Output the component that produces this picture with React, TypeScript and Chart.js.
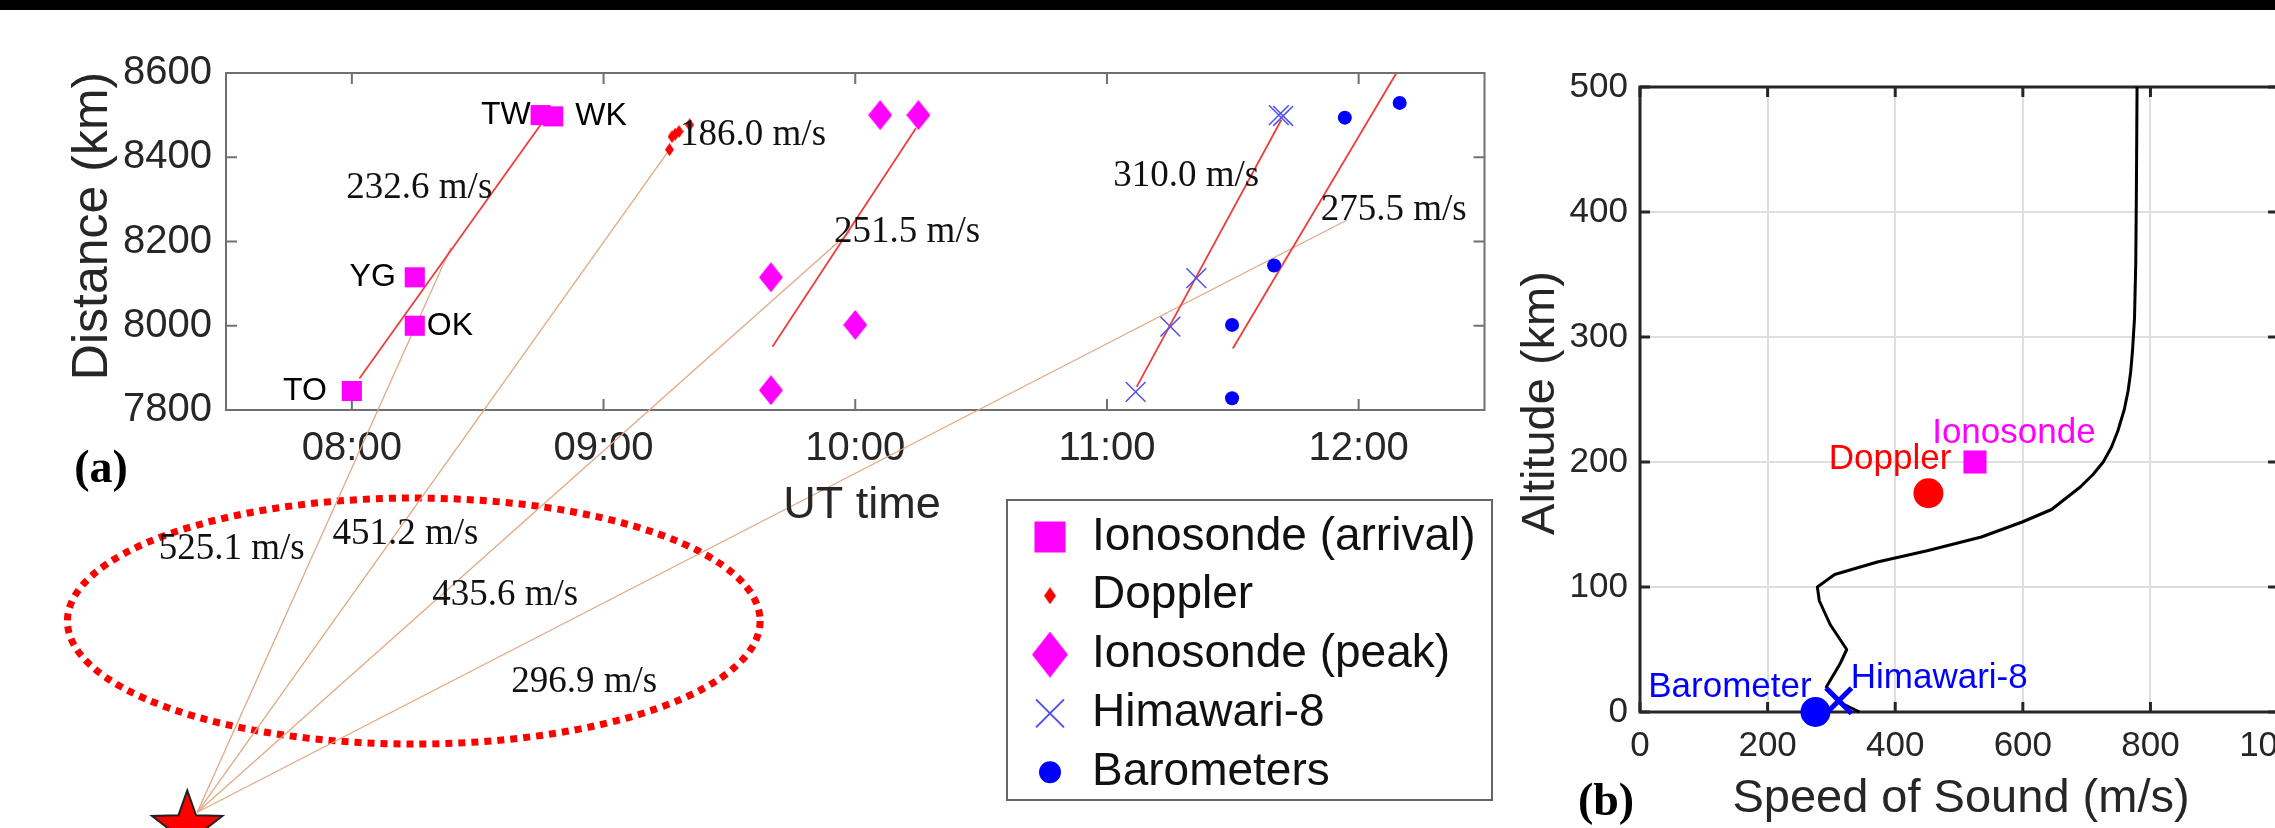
import React, { useEffect, useRef } from 'react';
import { Chart, registerables } from 'chart.js';

Chart.register(...registerables);

// ================= Panel (a): distance vs UT time =================
const hourTicks = [8, 9, 10, 11, 12];
const distanceTicks = [7800, 8000, 8200, 8400, 8600];

const stationNames = ['TO', 'YG', 'OK', 'TW', 'WK'];
const arrivalTime = [8.0, 8.25, 8.25, 8.75, 8.8];
const arrivalDist = [7845, 8115, 8000, 8500, 8497];

const dopplerTime = [9.262, 9.272, 9.285, 9.3, 9.342];
const dopplerDist = [8418, 8449, 8455, 8461, 8477];

const peakTime = [9.665, 9.665, 10.0, 10.099, 10.251];
const peakDist = [8115, 7847, 8002, 8500, 8500];

const himawariTime = [11.114, 11.252, 11.355, 11.683, 11.7];
const himawariDist = [7843, 7998, 8113, 8500, 8498];

const baroTime = [11.497, 11.497, 11.664, 11.945, 12.163];
const baroDist = [7828, 8002, 8143, 8494, 8529];

// fitted propagation lines
const fitStartTime = [8.03, 9.671, 11.118, 11.5];
const fitStartDist = [7875, 7950, 7855, 7946];
const fitEndTime = [8.75, 10.241, 11.693, 12.15];
const fitEndDist = [8477, 8469, 8489, 8600];

// rays from the epicentre (schematic)
const epicenterTime = 7.386;
const epicenterDist = 6845;
const rayEndTime = [8.393, 9.262, 9.978, 11.954];
const rayEndDist = [8185, 8418, 8223, 8251];

const speedLabels = ['232.6 m/s', '186.0 m/s', '251.5 m/s', '310.0 m/s', '275.5 m/s', '525.1 m/s', '451.2 m/s', '435.6 m/s', '296.9 m/s'];
const speedLabelTime = [8.268, 9.594, 10.206, 11.315, 12.139, 7.523, 8.213, 8.609, 8.923];
const speedLabelDist = [8327, 8453, 8223, 8356, 8275, 7470, 7505, 7361, 7154];

const ellipseTime = 8.246;
const ellipseDist = 7299;
const ellipseHalfTime = 1.376;
const ellipseHalfDist = 292;
const starTime = 7.346;
const starDist = 6809;

// ================= Panel (b): sound speed profile =================
const speedTicks = [0, 200, 400, 600, 800, 1000];
const altitudeTicks = [0, 100, 200, 300, 400, 500];
const profileSpeed = [344, 320, 292, 314, 324, 298, 281, 278, 305, 372, 450, 535, 599, 645, 690, 710, 726, 739, 749, 759, 765, 769, 772, 775, 777, 778, 779];
const profileAlt = [0, 6, 20, 39, 50, 70, 89, 100, 110, 120, 129, 140, 152, 162, 180, 190, 200, 212, 225, 242, 257, 272, 290, 315, 360, 420, 500];

const obsNames = ['Barometer', 'Himawari-8', 'Doppler', 'Ionosonde'];
const obsSpeed = [275, 311.5, 452, 525];
const obsAlt = [0, 9, 175, 200];
const obsLabelSpeed = [141, 469, 392, 586];
const obsLabelAlt = [20, 27, 202, 223];

// ================= styles =================
const MAGENTA = '#ff00ff';
const RED = '#ff0000';
const BLUE = '#0000ff';
const HIMA = '#5050ee';
const FIT = '#f03c3c';
const RAY = '#e2a882';
const SANS = "'Liberation Sans', Arial, sans-serif";
const SERIF = "'Liberation Serif', 'Times New Roman', serif";
const AXIS_TEXT = '#262626';

const pts = (xs: number[], ys: number[]) => xs.map((x, i) => ({ x, y: ys[i] }));

function fmtHour(v: number) {
  const h = Math.floor(v);
  const m = Math.round((v - h) * 60);
  return `${String(h).padStart(2, '0')}:${String(m).padStart(2, '0')}`;
}

function diamondCanvas(w: number, h: number, color: string) {
  const c = document.createElement('canvas');
  c.width = w;
  c.height = h;
  const g = c.getContext('2d')!;
  g.fillStyle = color;
  g.beginPath();
  g.moveTo(w / 2, 0);
  g.lineTo(w, h / 2);
  g.lineTo(w / 2, h);
  g.lineTo(0, h / 2);
  g.closePath();
  g.fill();
  return c;
}

function drawText(ctx: CanvasRenderingContext2D, s: string, x: number, y: number, font: string, color: string, align: CanvasTextAlign = 'center', rot = 0) {
  ctx.save();
  ctx.font = font;
  ctx.fillStyle = color;
  ctx.textAlign = align;
  ctx.textBaseline = 'middle';
  ctx.translate(x, y);
  if (rot) ctx.rotate(rot);
  ctx.fillText(s, 0, 0);
  ctx.restore();
}

function boxPlugin(id: string, color: string, lw: number, tickLen: number, xTicks: number[], yTicks: number[]) {
  return {
    id,
    beforeDatasetsDraw(chart: any) {
      const { ctx, chartArea: a, scales } = chart;
      const xs = scales.x;
      const ys = scales.y;
      ctx.save();
      ctx.strokeStyle = color;
      ctx.lineWidth = lw;
      ctx.beginPath();
      xTicks.forEach((v) => {
        const p = xs.getPixelForValue(v);
        ctx.moveTo(p, a.bottom);
        ctx.lineTo(p, a.bottom - tickLen);
        ctx.moveTo(p, a.top);
        ctx.lineTo(p, a.top + tickLen);
      });
      yTicks.forEach((v) => {
        const p = ys.getPixelForValue(v);
        ctx.moveTo(a.left, p);
        ctx.lineTo(a.left + tickLen, p);
        ctx.moveTo(a.right, p);
        ctx.lineTo(a.right - tickLen, p);
      });
      ctx.stroke();
      ctx.strokeRect(a.left, a.top, a.right - a.left, a.bottom - a.top);
      ctx.restore();
    },
  };
}

function drawLegendMarker(ctx: CanvasRenderingContext2D, kind: string, x: number, y: number) {
  ctx.save();
  if (kind === 'square') {
    ctx.fillStyle = MAGENTA;
    ctx.fillRect(x - 15.5, y - 15.5, 31, 31);
  } else if (kind === 'smallDiamond') {
    ctx.drawImage(diamondCanvas(12, 17, RED), x - 6, y - 8.5);
  } else if (kind === 'diamond') {
    ctx.drawImage(diamondCanvas(36, 46, MAGENTA), x - 18, y - 23);
  } else if (kind === 'cross') {
    ctx.strokeStyle = HIMA;
    ctx.lineWidth = 2;
    ctx.beginPath();
    ctx.moveTo(x - 14, y - 14);
    ctx.lineTo(x + 14, y + 14);
    ctx.moveTo(x + 14, y - 14);
    ctx.lineTo(x - 14, y + 14);
    ctx.stroke();
  } else if (kind === 'circle') {
    ctx.fillStyle = BLUE;
    ctx.beginPath();
    ctx.arc(x, y, 11, 0, Math.PI * 2);
    ctx.fill();
  }
  ctx.restore();
}

const legendKinds = ['square', 'smallDiamond', 'diamond', 'cross', 'circle'];

const annotA = {
  id: 'annotA',
  beforeDatasetsDraw(chart: any) {
    const { ctx, scales } = chart;
    const xs = scales.x;
    const ys = scales.y;
    const cx = xs.getPixelForValue(ellipseTime);
    const cy = ys.getPixelForValue(ellipseDist);
    const rx = Math.abs(xs.getPixelForValue(ellipseTime + ellipseHalfTime) - cx);
    const ry = Math.abs(ys.getPixelForValue(ellipseDist + ellipseHalfDist) - cy);
    ctx.save();
    ctx.strokeStyle = RED;
    ctx.lineWidth = 7;
    ctx.setLineDash([7, 6]);
    ctx.beginPath();
    ctx.ellipse(cx, cy, rx, ry, 0, 0, Math.PI * 2);
    ctx.stroke();
    ctx.restore();
  },
  afterDatasetsDraw(chart: any) {
    const { ctx, scales } = chart;
    const xs = scales.x;
    const ys = scales.y;
    // star (epicentre)
    const sx = xs.getPixelForValue(starTime);
    const sy = ys.getPixelForValue(starDist);
    ctx.save();
    ctx.beginPath();
    for (let i = 0; i < 10; i++) {
      const r = i % 2 === 0 ? 37 : 15;
      const ang = -Math.PI / 2 + (i * Math.PI) / 5;
      const px = sx + r * Math.cos(ang);
      const py = sy + r * Math.sin(ang);
      if (i === 0) ctx.moveTo(px, py);
      else ctx.lineTo(px, py);
    }
    ctx.closePath();
    ctx.fillStyle = RED;
    ctx.fill();
    ctx.strokeStyle = '#222';
    ctx.lineWidth = 2;
    ctx.stroke();
    ctx.restore();

    // station labels
    const sAlign: CanvasTextAlign[] = ['right', 'right', 'left', 'right', 'left'];
    const sDx = [-25, -19, 12, -10, 22];
    stationNames.forEach((n, i) => {
      drawText(ctx, n, xs.getPixelForValue(arrivalTime[i]) + sDx[i], ys.getPixelForValue(arrivalDist[i]), `32px ${SANS}`, '#000', sAlign[i]);
    });
    // speed labels
    speedLabels.forEach((s, i) => {
      drawText(ctx, s, xs.getPixelForValue(speedLabelTime[i]), ys.getPixelForValue(speedLabelDist[i]), `37px ${SERIF}`, '#111');
    });
  },
  afterDraw(chart: any) {
    const { ctx } = chart;
    drawText(ctx, 'Distance (km)', 93, 226, `50px ${SANS}`, AXIS_TEXT, 'center', -Math.PI / 2);
    drawText(ctx, 'UT time', 862, 506, `45px ${SANS}`, AXIS_TEXT);
    drawText(ctx, '(a)', 101, 470, `bold 46px ${SERIF}`, '#000');
    // legend
    const lx = 1007, ly = 500, lw = 485, lh = 300;
    ctx.save();
    ctx.fillStyle = '#fff';
    ctx.fillRect(lx, ly, lw, lh);
    ctx.strokeStyle = '#666';
    ctx.lineWidth = 2;
    ctx.strokeRect(lx, ly, lw, lh);
    ctx.restore();
    const ds = chart.data.datasets.slice(0, 5);
    ds.forEach((d: any, i: number) => {
      const y = 537 + i * 58.8;
      drawLegendMarker(ctx, legendKinds[i], 1050, y);
      drawText(ctx, d.label, 1092, y, `46px ${SANS}`, '#111', 'left');
    });
  },
};

const annotB = {
  id: 'annotB',
  afterDatasetsDraw(chart: any) {
    const { ctx, scales } = chart;
    const xs = scales.x;
    const ys = scales.y;
    const colors = [BLUE, BLUE, RED, MAGENTA];
    obsNames.forEach((n, i) => {
      drawText(ctx, n, xs.getPixelForValue(obsLabelSpeed[i]), ys.getPixelForValue(obsLabelAlt[i]), `35px ${SANS}`, colors[i]);
    });
  },
  afterDraw(chart: any) {
    const { ctx } = chart;
    // canvas B starts at page x = 1500
    drawText(ctx, 'Altitude (km)', 1541 - 1500, 403, `47px ${SANS}`, AXIS_TEXT, 'center', -Math.PI / 2);
    drawText(ctx, 'Speed of Sound (m/s)', 1961 - 1500, 799, `47px ${SANS}`, AXIS_TEXT);
    drawText(ctx, '(b)', 1606 - 1500, 803, `bold 46px ${SERIF}`, '#000');
  },
};

function makeChartA(canvas: HTMLCanvasElement) {
  const peakImg = diamondCanvas(24, 30, MAGENTA);
  const dopImg = diamondCanvas(9, 13, RED);
  const lineSet = (label: string, x0: number, y0: number, x1: number, y1: number, color: string, w: number) => ({
    label,
    data: [{ x: x0, y: y0 }, { x: x1, y: y1 }],
    showLine: true,
    pointRadius: 0,
    borderColor: color,
    borderWidth: w,
    clip: false,
  });
  const fits = fitStartTime.map((_, i) => lineSet(`fit${i}`, fitStartTime[i], fitStartDist[i], fitEndTime[i], fitEndDist[i], FIT, 1.8));
  const rays = rayEndTime.map((_, i) => lineSet(`ray${i}`, epicenterTime, epicenterDist, rayEndTime[i], rayEndDist[i], RAY, 1.3));
  return new Chart(canvas, {
    type: 'scatter',
    data: {
      datasets: [
        { label: 'Ionosonde (arrival)', data: pts(arrivalTime, arrivalDist), pointStyle: 'rect', pointRadius: 14.2, backgroundColor: MAGENTA, borderWidth: 0, clip: false },
        { label: 'Doppler', data: pts(dopplerTime, dopplerDist), pointStyle: dopImg, pointRadius: 5, backgroundColor: RED, borderWidth: 0, clip: false },
        { label: 'Ionosonde (peak)', data: pts(peakTime, peakDist), pointStyle: peakImg, pointRadius: 12, backgroundColor: MAGENTA, borderWidth: 0, clip: false },
        { label: 'Himawari-8', data: pts(himawariTime, himawariDist), pointStyle: 'crossRot', pointRadius: 14, borderColor: HIMA, backgroundColor: HIMA, borderWidth: 1.5, clip: false },
        { label: 'Barometers', data: pts(baroTime, baroDist), pointStyle: 'circle', pointRadius: 7, backgroundColor: BLUE, borderWidth: 0, clip: false },
        ...fits,
        ...rays,
      ] as any,
    },
    options: {
      animation: false,
      responsive: false,
      maintainAspectRatio: false,
      events: [],
      layout: { padding: { top: 73, right: 1, left: 0, bottom: 0 } },
      plugins: { legend: { display: false }, tooltip: { enabled: false } },
      scales: {
        x: {
          type: 'linear',
          min: 7.5,
          max: 12.5,
          afterBuildTicks: (ax: any) => { ax.ticks = hourTicks.map((v) => ({ value: v })); },
          afterFit: (s: any) => { s.height = 418; },
          grid: { display: false, drawTicks: false },
          border: { display: false },
          ticks: { callback: (v: any) => fmtHour(Number(v)), font: { family: SANS, size: 40 }, color: AXIS_TEXT, padding: 15, maxRotation: 0, autoSkip: false },
        },
        y: {
          type: 'linear',
          min: 7800,
          max: 8600,
          afterBuildTicks: (ax: any) => { ax.ticks = distanceTicks.map((v) => ({ value: v })); },
          afterFit: (s: any) => { s.width = 226; },
          grid: { display: false, drawTicks: false },
          border: { display: false },
          ticks: { callback: (v: any) => String(v), font: { family: SANS, size: 40 }, color: AXIS_TEXT, padding: 14, autoSkip: false },
        },
      },
    } as any,
    plugins: [boxPlugin('boxA', '#707070', 2, 11, hourTicks, distanceTicks), annotA],
  });
}

function makeChartB(canvas: HTMLCanvasElement) {
  return new Chart(canvas, {
    type: 'scatter',
    data: {
      datasets: [
        { label: 'Barometer', data: [{ x: obsSpeed[0], y: obsAlt[0] }], pointStyle: 'circle', pointRadius: 15, backgroundColor: BLUE, borderWidth: 0, clip: false },
        { label: 'Himawari-8', data: [{ x: obsSpeed[1], y: obsAlt[1] }], pointStyle: 'crossRot', pointRadius: 18, borderColor: BLUE, borderWidth: 5, clip: false },
        { label: 'Doppler', data: [{ x: obsSpeed[2], y: obsAlt[2] }], pointStyle: 'circle', pointRadius: 15, backgroundColor: RED, borderWidth: 0, clip: false },
        { label: 'Ionosonde', data: [{ x: obsSpeed[3], y: obsAlt[3] }], pointStyle: 'rect', pointRadius: 16.3, backgroundColor: MAGENTA, borderWidth: 0, clip: false },
        { label: 'Speed of sound', data: pts(profileSpeed, profileAlt), showLine: true, pointRadius: 0, borderColor: '#000', borderWidth: 3, borderJoinStyle: 'round', clip: false },
      ] as any,
    },
    options: {
      animation: false,
      responsive: false,
      maintainAspectRatio: false,
      events: [],
      layout: { padding: { top: 87, right: 50, left: 0, bottom: 0 } },
      plugins: { legend: { display: false }, tooltip: { enabled: false } },
      scales: {
        x: {
          type: 'linear',
          min: 0,
          max: 1000,
          afterBuildTicks: (ax: any) => { ax.ticks = speedTicks.map((v) => ({ value: v })); },
          afterFit: (s: any) => { s.height = 116; },
          grid: { display: true, drawTicks: false, color: '#dedede', lineWidth: 2 },
          border: { display: false },
          ticks: { callback: (v: any) => String(v), font: { family: SANS, size: 35 }, color: AXIS_TEXT, padding: 13, maxRotation: 0, autoSkip: false },
        },
        y: {
          type: 'linear',
          min: 0,
          max: 500,
          afterBuildTicks: (ax: any) => { ax.ticks = altitudeTicks.map((v) => ({ value: v })); },
          afterFit: (s: any) => { s.width = 140; },
          grid: { display: true, drawTicks: false, color: '#dedede', lineWidth: 2 },
          border: { display: false },
          ticks: { callback: (v: any) => String(v), font: { family: SANS, size: 35 }, color: AXIS_TEXT, padding: 12, autoSkip: false },
        },
      },
    } as any,
    plugins: [boxPlugin('boxB', '#262626', 3, 10, speedTicks, altitudeTicks), annotB],
  });
}

export default function App() {
  const refA = useRef<HTMLCanvasElement>(null);
  const refB = useRef<HTMLCanvasElement>(null);
  useEffect(() => {
    const a = makeChartA(refA.current!);
    const b = makeChartB(refB.current!);
    return () => {
      a.destroy();
      b.destroy();
    };
  }, []);
  return (
    <div style={{ position: 'absolute', left: 0, top: 0, width: 2275, height: 828, overflow: 'hidden', background: '#fff' }}>
      <canvas ref={refA} width={1500} height={828} style={{ position: 'absolute', left: 0, top: 0, width: 1500, height: 828 }} />
      <canvas ref={refB} width={830} height={828} style={{ position: 'absolute', left: 1500, top: 0, width: 830, height: 828 }} />
      <div style={{ position: 'absolute', left: 0, top: 0, width: 2275, height: 10, background: '#000' }} />
    </div>
  );
}
